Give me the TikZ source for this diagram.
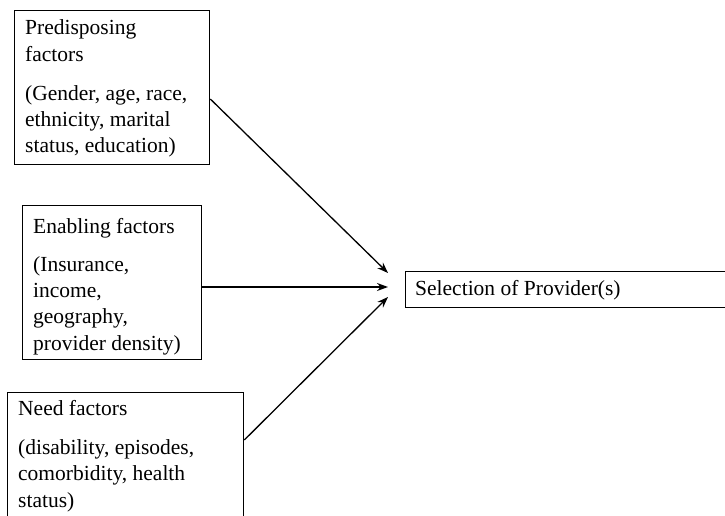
\documentclass[tikz,border=0pt]{standalone}
\usepackage{fontspec}
\setmainfont{Liberation Serif}
\usetikzlibrary{arrows.meta}
\begin{document}
\begin{tikzpicture}[x=1pt,y=-1pt,
  factorbox/.style={draw, line width=1.3pt, rectangle, inner sep=0pt, anchor=north west},
  boxtext/.style={anchor=base west, inner sep=0pt, align=left, font=\fontsize{21.5}{26.3}\selectfont},
  link/.style={line width=1.3pt, -{Stealth[length=11pt,width=8pt]}}]
\useasboundingbox (0,0) rectangle (725,516);
\fill[white] (0,0) rectangle (725,516);

% factor boxes (text placed by the baseline of its last line)
\node[factorbox, minimum width=195pt, minimum height=154pt] (pre) at (14,10) {};
\node[boxtext] (pretext) at (25,153) {Predisposing\\factors\\[13pt](Gender, age, race,\\ethnicity, marital\\status, education)};

\node[factorbox, minimum width=179pt, minimum height=154pt] (ena) at (22,205) {};
\node[boxtext] (enatext) at (33,350) {Enabling factors\\[11pt](Insurance,\\income,\\geography,\\provider density)};

\node[factorbox, minimum width=236pt, minimum height=150pt] (need) at (7,392) {};
\node[boxtext] (needtext) at (18,507) {Need factors\\[13pt](disability, episodes,\\comorbidity, health\\status)};

% outcome box
\node[factorbox, minimum width=340pt, minimum height=36pt] (sel) at (405,271) {};
\node[boxtext] (seltext) at (415,295) {Selection of Provider(s)};

% arrow tips stop short of the outcome box
\coordinate (tipa) at (388,273);
\coordinate (tipb) at (388,287);
\coordinate (tipc) at (388,297);

\draw[link] ([yshift=-89pt]pre.north east) -- (tipa);
\draw[link] ([yshift=-82pt]ena.north east) -- (tipb);
\draw[link] ([yshift=-48pt]need.north east) -- (tipc);
\end{tikzpicture}
\end{document}
